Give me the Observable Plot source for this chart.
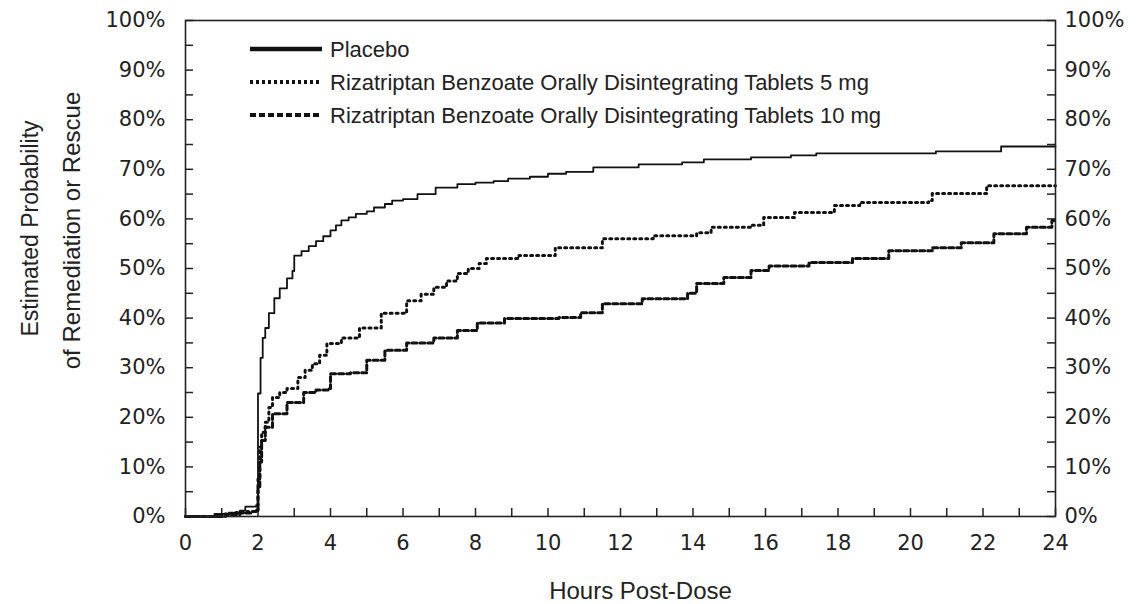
<!DOCTYPE html>
<html>
<head>
<meta charset="utf-8">
<script src="https://cdn.jsdelivr.net/npm/d3@7"></script>
<script src="https://cdn.jsdelivr.net/npm/@observablehq/plot@0.6"></script>
<style>
  html, body { margin: 0; padding: 0; background: #fff; }
  #chart { width: 1141px; height: 604px; }
</style>
</head>
<body>
<div id="chart"></div>
<script>
// ---- Data ----
const seriesNames = [
  "Placebo",
  "Rizatriptan Benzoate Orally Disintegrating Tablets 5 mg",
  "Rizatriptan Benzoate Orally Disintegrating Tablets 10 mg"
];

const placeboHours = [0, 0.8, 1.2, 1.5, 1.65, 1.95, 2.0, 2.07, 2.13, 2.2, 2.3, 2.45, 2.6, 2.8, 2.95, 3.0, 3.2, 3.4, 3.6, 3.8, 4.0, 4.15, 4.3, 4.5, 4.7, 5.0, 5.2, 5.5, 5.7, 6.0, 6.4, 6.9, 7.5, 8.0, 8.5, 8.9, 9.5, 10.0, 10.5, 11.25, 12.5, 13.7, 14.3, 15.6, 16.7, 17.4, 20.7, 22.5, 24];
const placeboPct   = [0, 0.5, 0.8, 1.2, 2.0, 2.3, 24.8, 32, 36, 38, 41, 44, 46, 48, 49.5, 52.6, 53.5, 54.5, 55.5, 56.5, 57.7, 58.7, 59.7, 60.3, 61, 61.5, 62.3, 63, 63.7, 64, 65, 66.3, 67, 67.3, 67.6, 68.1, 68.5, 69.1, 69.5, 70.4, 71, 71.4, 72, 72.4, 72.8, 73.2, 73.6, 74.6, 74.6];

const mg5Hours = [0, 1.0, 1.4, 1.7, 1.95, 2.0, 2.05, 2.1, 2.2, 2.3, 2.4, 2.6, 2.8, 3.1, 3.3, 3.5, 3.7, 3.9, 4.3, 4.8, 5.4, 6.1, 6.5, 6.85, 7.2, 7.5, 7.8, 8.1, 8.3, 9.2, 10.2, 11.5, 12.9, 14.1, 14.5, 15.6, 15.95, 16.8, 17.9, 18.6, 20.5, 20.6, 21.7, 22.1, 24];
const mg5Pct   = [0, 0.5, 0.8, 1.0, 1.2, 8, 14, 17, 19, 22, 24, 25, 25.8, 28, 29.5, 30.8, 32.5, 34.9, 36, 38, 41, 43.5, 44.8, 46.2, 47.5, 49, 50, 51, 52, 52.6, 54.2, 56, 56.6, 57.2, 58.3, 58.7, 60.3, 61.3, 62.7, 63.3, 63.7, 65.1, 65.1, 66.7, 66.7];

const mg10Hours = [0, 1.1, 1.5, 1.8, 1.95, 2.0, 2.05, 2.1, 2.2, 2.4, 2.8, 3.26, 3.6, 3.95, 4.0, 4.55, 5.0, 5.5, 6.1, 6.85, 7.5, 8.05, 8.8, 10.3, 10.9, 11.5, 12.6, 13.85, 14.1, 14.85, 15.6, 16.1, 17.2, 18.4, 19.4, 20.6, 21.4, 22.3, 23.2, 23.9, 24];
const mg10Pct   = [0, 0.4, 0.7, 1.0, 1.2, 6, 11, 15.3, 18, 20.7, 23, 25, 25.5, 25.8, 28.8, 29, 31.5, 33.5, 35, 36, 37.5, 39, 39.9, 40.1, 41.1, 42.9, 43.9, 45, 47, 48.2, 49.6, 50.5, 51.2, 52, 53.6, 54.2, 55.2, 57, 58.3, 59.7, 60];

const xLabelTicks = [0, 2, 4, 6, 8, 10, 12, 14, 16, 18, 20, 22, 24];
const xMinorTicks = [0, 1, 2, 3, 4, 5, 6, 7, 8, 9, 10, 11, 12, 13, 14, 15, 16, 17, 18, 19, 20, 21, 22, 23, 24];
const yLabelTicks = [0, 10, 20, 30, 40, 50, 60, 70, 80, 90, 100];
const yMinorTicks = [0, 5, 10, 15, 20, 25, 30, 35, 40, 45, 50, 55, 60, 65, 70, 75, 80, 85, 90, 95, 100];

const xTitle = "Hours Post-Dose";
const yTitle1 = "Estimated Probability";
const yTitle2 = "of Remediation or Rescue";

// ---- Build rows ----
const toRows = (hs, ps) => hs.map((h, i) => ({h, p: ps[i]}));
const placeboRows = toRows(placeboHours, placeboPct);
const mg5Rows = toRows(mg5Hours, mg5Pct);
const mg10Rows = toRows(mg10Hours, mg10Pct);

const W = 1141, H = 604;
const mL = 185, mR = 86, mT = 20, mB = 88;
const innerW = W - mL - mR, innerH = H - mT - mB;
const tickLen = 8;

const chart = Plot.plot({
  width: W, height: H,
  marginLeft: mL, marginRight: mR, marginTop: mT, marginBottom: mB,
  x: {domain: [0, 24]},
  y: {domain: [0, 100]},
  style: {fontFamily: "DejaVu Sans", fontSize: "21px", color: "#222", background: "#fff", overflow: "visible"},
  marks: [
    Plot.tickX(xMinorTicks, {x: d => d, insetTop: innerH - tickLen, stroke: "#222", strokeWidth: 1.5}),
    Plot.tickY(yMinorTicks, {y: d => d, insetRight: innerW - tickLen, stroke: "#222", strokeWidth: 1.5}),
    Plot.tickY(yMinorTicks, {y: d => d, insetLeft: innerW - tickLen, stroke: "#222", strokeWidth: 1.5}),
    Plot.axisX({ticks: xLabelTicks, tickSize: 0, tickPadding: 19, label: null, fontSize: 21}),
    Plot.axisY({anchor: "left", ticks: yLabelTicks, tickFormat: d => d + "%", tickSize: 0, tickPadding: 20, label: null, fontSize: 21}),
    Plot.axisY({anchor: "right", ticks: yLabelTicks, tickFormat: d => d + "%", tickSize: 0, tickPadding: 9, label: null, fontSize: 21}),
    Plot.line(mg10Rows, {x: "h", y: "p", curve: "step-after", stroke: "#111", strokeWidth: 3, strokeDasharray: "5,3"}),
    Plot.line(mg5Rows, {x: "h", y: "p", curve: "step-after", stroke: "#111", strokeWidth: 3, strokeDasharray: "2,4"}),
    Plot.line(placeboRows, {x: "h", y: "p", curve: "step-after", stroke: "#111", strokeWidth: 1.8}),
    Plot.frame({stroke: "#222", strokeWidth: 1.6}),
    Plot.text([xTitle], {frameAnchor: "bottom", textAnchor: "middle", dx: 20, dy: 82, fontSize: 24, fontFamily: "Liberation Sans", fill: "#222"}),
    Plot.text([yTitle1], {frameAnchor: "left", textAnchor: "middle", rotate: -90, dx: -155, dy: -40, fontSize: 23, fontFamily: "Liberation Sans", fill: "#222"}),
    Plot.text([yTitle2], {frameAnchor: "left", textAnchor: "middle", rotate: -90, dx: -113, dy: -38, fontSize: 24, fontFamily: "Liberation Sans", fill: "#222"})
  ]
});

document.getElementById("chart").appendChild(chart);

// ---- Legend (inside the plot area, top-left) ----
const svg = d3.select(chart);
const legendStyles = [
  {width: 4.5, dash: null},
  {width: 4, dash: "3,3"},
  {width: 4, dash: "6,3"}
];
const lg = svg.append("g").attr("class", "legend").attr("text-anchor", "start");
seriesNames.forEach((name, i) => {
  const y = 49 + i * 33;
  lg.append("line")
    .attr("x1", 250).attr("x2", 322).attr("y1", y).attr("y2", y)
    .attr("stroke", "#111").attr("stroke-width", legendStyles[i].width)
    .attr("stroke-dasharray", legendStyles[i].dash);
  lg.append("text")
    .attr("x", 330).attr("y", y).attr("dy", "0.35em")
    .attr("text-anchor", "start")
    .attr("font-family", "Liberation Sans").attr("font-size", 22)
    .attr("fill", "#222")
    .text(name);
});
</script>
</body>
</html>
